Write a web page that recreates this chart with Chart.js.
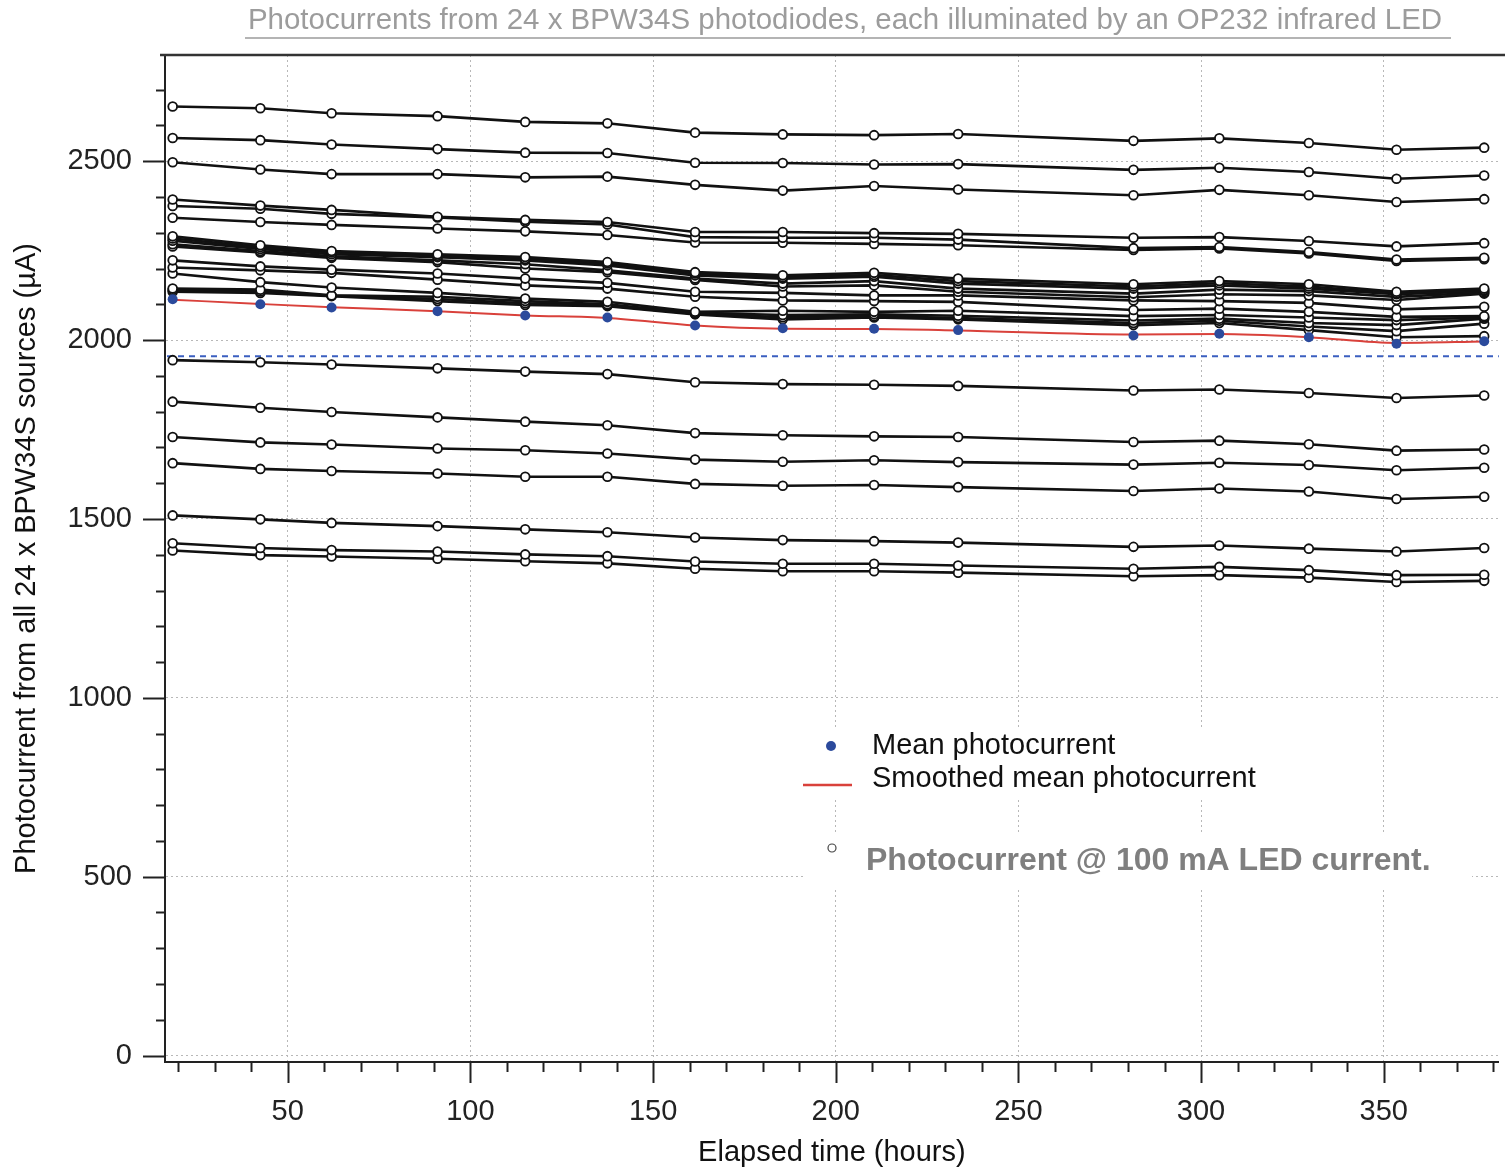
<!DOCTYPE html>
<html><head><meta charset="utf-8">
<script src="https://cdn.jsdelivr.net/npm/chart.js@4/dist/chart.umd.min.js"></script>
<style>html,body{margin:0;padding:0;background:#fff;overflow:hidden;}#wrap{width:1505px;height:1167px;position:relative;}canvas{display:block;}</style>
</head><body><div id="wrap"><canvas id="c"></canvas></div>
<script>
// ---------- data ----------
const hours = [18.5, 42.5, 62, 91, 115, 137.5, 161.5, 185.5, 210.5, 233.5, 281.5, 305, 329.5, 353.5, 377.5];

const diode01 = [2653, 2648, 2634, 2626, 2610, 2606, 2580, 2575, 2573, 2576, 2557, 2564, 2551, 2532, 2538];
const diode02 = [2565, 2559, 2547, 2534, 2524, 2523, 2496, 2495, 2491, 2492, 2476, 2482, 2470, 2451, 2460];
const diode03 = [2497, 2477, 2464, 2464, 2455, 2457, 2434, 2418, 2431, 2421, 2405, 2420, 2405, 2386, 2394];
const diode04 = [2393, 2376, 2364, 2345, 2336, 2330, 2302, 2302, 2299, 2297, 2286, 2288, 2277, 2262, 2271];
const diode05 = [2375, 2367, 2353, 2343, 2331, 2323, 2288, 2286, 2286, 2281, 2257, 2260, 2246, 2225, 2230];
const diode06 = [2342, 2330, 2322, 2312, 2304, 2294, 2273, 2272, 2269, 2265, 2252, 2256, 2242, 2221, 2226];
const diode07 = [2290, 2265, 2249, 2240, 2232, 2218, 2190, 2181, 2188, 2172, 2156, 2165, 2156, 2135, 2144];
const diode08 = [2284, 2260, 2245, 2236, 2227, 2214, 2186, 2176, 2182, 2165, 2150, 2159, 2150, 2131, 2140];
const diode09 = [2278, 2255, 2240, 2232, 2223, 2209, 2181, 2172, 2177, 2158, 2144, 2153, 2144, 2128, 2137];
const diode10 = [2268, 2249, 2234, 2223, 2212, 2195, 2172, 2158, 2165, 2144, 2130, 2141, 2137, 2121, 2133];
const diode11 = [2262, 2245, 2230, 2218, 2200, 2190, 2168, 2150, 2153, 2135, 2120, 2128, 2125, 2112, 2130];
const diode12 = [2223, 2206, 2197, 2186, 2172, 2160, 2135, 2132, 2125, 2125, 2111, 2109, 2104, 2086, 2093];
const diode13 = [2203, 2195, 2188, 2169, 2153, 2144, 2121, 2111, 2109, 2107, 2084, 2088, 2079, 2065, 2067];
const diode14 = [2186, 2162, 2147, 2132, 2116, 2107, 2079, 2082, 2079, 2082, 2067, 2070, 2063, 2056, 2063];
const diode15 = [2144, 2141, 2125, 2121, 2109, 2100, 2076, 2070, 2072, 2068, 2055, 2060, 2048, 2042, 2060];
const diode16 = [2140, 2136, 2124, 2115, 2103, 2097, 2074, 2064, 2067, 2062, 2048, 2054, 2038, 2025, 2046];
const diode17 = [2135, 2132, 2123, 2109, 2098, 2095, 2072, 2058, 2063, 2058, 2042, 2048, 2028, 2008, 2011];
const diode18 = [1944, 1938, 1932, 1921, 1912, 1905, 1882, 1877, 1875, 1872, 1859, 1862, 1852, 1838, 1845];
const diode19 = [1828, 1811, 1799, 1784, 1772, 1762, 1740, 1734, 1731, 1729, 1715, 1719, 1709, 1691, 1694];
const diode20 = [1729, 1714, 1708, 1697, 1692, 1683, 1666, 1660, 1664, 1659, 1652, 1657, 1651, 1636, 1643];
const diode21 = [1656, 1640, 1634, 1627, 1618, 1618, 1598, 1593, 1595, 1589, 1578, 1585, 1577, 1556, 1562];
const diode22 = [1510, 1499, 1489, 1480, 1471, 1463, 1448, 1441, 1438, 1434, 1422, 1426, 1417, 1409, 1419];
const diode23 = [1432, 1419, 1413, 1409, 1401, 1396, 1381, 1375, 1375, 1370, 1361, 1366, 1357, 1343, 1344];
const diode24 = [1412, 1399, 1395, 1389, 1382, 1376, 1361, 1354, 1354, 1350, 1340, 1343, 1336, 1324, 1327];

const meanPhotocurrent = [2114, 2100, 2091, 2081, 2069, 2063, 2041, 2033, 2032, 2028, 2013, 2018, 2008, 1990, 1997];
const smoothedMean     = [2113, 2101, 2092, 2081, 2069, 2062, 2041, 2032, 2031, 2027, 2016, 2017, 2008, 1992, 1996];
const referenceLevel = 1955;

const xMajorTicks = [50, 100, 150, 200, 250, 300, 350];
const yMajorTicks = [0, 500, 1000, 1500, 2000, 2500];

const titleText = 'Photocurrents from 24 x BPW34S photodiodes, each illuminated by an OP232 infrared LED';
const xTitle = 'Elapsed time (hours)';
const yTitle = 'Photocurrent from all 24 x BPW34S sources (\u00b5A)';
const legendMean = 'Mean photocurrent';
const legendSmooth = 'Smoothed mean photocurrent';
const legendDiode = 'Photocurrent @ 100 mA LED current.';

// ---------- build ----------
const diodes = [diode01,diode02,diode03,diode04,diode05,diode06,diode07,diode08,diode09,diode10,diode11,diode12,
  diode13,diode14,diode15,diode16,diode17,diode18,diode19,diode20,diode21,diode22,diode23,diode24];
const toPts = arr => arr.map((v, i) => ({x: hours[i], y: v}));
const FONT = '"Liberation Sans", Arial, Helvetica, sans-serif';

const datasets = diodes.map((d, i) => ({
  label: 'Diode ' + (i + 1), data: toPts(d), order: 3,
  borderColor: '#111', borderWidth: 2.6, pointRadius: 4.4, pointBorderWidth: 1.8,
  pointBackgroundColor: '#fff', pointBorderColor: '#111', tension: 0
}));
datasets.push({label: legendSmooth, data: toPts(smoothedMean), order: 2, borderColor: '#d9413b', borderWidth: 2,
  pointRadius: 0, cubicInterpolationMode: 'monotone'});
datasets.push({label: legendMean, data: toPts(meanPhotocurrent), order: 1, showLine: false,
  pointRadius: 5, pointBackgroundColor: '#2b4a9c', pointBorderColor: '#2b4a9c', pointBorderWidth: 0});

const decor = {
  id: 'decor',
  beforeDatasetsDraw(chart) {
    const {ctx, chartArea: a, scales: {y}} = chart;
    const py = y.getPixelForValue(referenceLevel);
    ctx.save();
    ctx.strokeStyle = '#3b5fc0'; ctx.lineWidth = 2; ctx.setLineDash([6, 5]);
    ctx.beginPath(); ctx.moveTo(a.left + 2, py); ctx.lineTo(a.right, py); ctx.stroke();
    ctx.restore();
  },
  afterDatasetsDraw(chart) {
    const {ctx} = chart;
    ctx.save();
    ctx.fillStyle = '#fff';
    ctx.fillRect(798, 727, 470, 72);
    ctx.fillRect(806, 835, 666, 52);
    ctx.fillStyle = '#2b4a9c';
    ctx.beginPath(); ctx.arc(831, 746, 5, 0, Math.PI * 2); ctx.fill();
    ctx.strokeStyle = '#d9413b'; ctx.lineWidth = 2.5;
    ctx.beginPath(); ctx.moveTo(803, 785); ctx.lineTo(852, 785); ctx.stroke();
    ctx.fillStyle = '#111'; ctx.textBaseline = 'middle'; ctx.textAlign = 'left';
    ctx.font = '29px ' + FONT;
    ctx.fillText(legendMean, 872, 746);
    ctx.fillText(legendSmooth, 872, 779);
    ctx.strokeStyle = '#444'; ctx.lineWidth = 1.2; ctx.fillStyle = '#fff';
    ctx.beginPath(); ctx.arc(832, 848, 4, 0, Math.PI * 2); ctx.fill(); ctx.stroke();
    ctx.fillStyle = '#7f7f7f'; ctx.font = 'bold 32px ' + FONT;
    ctx.fillText(legendDiode, 866, 861);
    ctx.restore();
  },
  afterDraw(chart) {
    const {ctx, chartArea: a, scales: {x, y}} = chart;
    ctx.save();
    ctx.strokeStyle = '#222'; ctx.lineWidth = 2;
    for (let v = 0; v <= 2700; v += 100) {
      const p = Math.round(y.getPixelForValue(v)) + 0.5;
      const len = (v % 500 === 0) ? 22 : 9;
      ctx.beginPath(); ctx.moveTo(a.left - len, p); ctx.lineTo(a.left, p); ctx.stroke();
    }
    for (let v = 20; v <= 380; v += 10) {
      const p = Math.round(x.getPixelForValue(v)) + 0.5;
      const len = (v % 50 === 0) ? 21 : 10;
      ctx.beginPath(); ctx.moveTo(p, a.bottom); ctx.lineTo(p, a.bottom + len); ctx.stroke();
    }
    ctx.strokeStyle = '#333'; ctx.lineWidth = 2.5;
    ctx.beginPath(); ctx.moveTo(160, a.top); ctx.lineTo(1505, a.top); ctx.stroke();
    ctx.fillStyle = '#9c9c9c'; ctx.textAlign = 'center'; ctx.textBaseline = 'middle';
    let fs = 27; ctx.font = fs + 'px ' + FONT;
    const w = ctx.measureText(titleText).width;
    fs = fs * 1194 / w; ctx.font = fs.toFixed(2) + 'px ' + FONT;
    ctx.fillText(titleText, 845, 21);
    ctx.strokeStyle = '#b4b4b4'; ctx.lineWidth = 2;
    ctx.beginPath(); ctx.moveTo(245, 38); ctx.lineTo(1451, 38); ctx.stroke();
    ctx.restore();
  }
};

const gridColor = (step) => (c) => (c.tick && Math.abs(c.tick.value % step) < 1e-6) ? '#b8b8b8' : 'rgba(0,0,0,0)';

new Chart(document.getElementById('c'), {
  type: 'line',
  data: {datasets},
  plugins: [decor],
  options: {
    responsive: true, maintainAspectRatio: false, animation: false,
    layout: {padding: {top: 55, right: 5, left: 0, bottom: 0}},
    plugins: {legend: {display: false}, tooltip: {enabled: false}, title: {display: false}},
    scales: {
      x: {
        type: 'linear', min: 16.4, max: 381.5,
        afterFit(s) { s.height = 105; },
        ticks: {stepSize: 10, includeBounds: false, autoSkip: false, maxRotation: 0, padding: 2,
          color: '#222', font: {size: 29, family: FONT},
          callback: v => xMajorTicks.includes(v) ? String(v) : ''},
        grid: {drawTicks: true, tickLength: 31, tickColor: 'rgba(0,0,0,0)', color: gridColor(50), lineWidth: 1},
        border: {display: true, color: '#222', width: 2, dash: [2, 3]},
        title: {display: true, text: xTitle, color: '#111', font: {size: 29, family: FONT, lineHeight: 1}, padding: {top: 0, bottom: 0}}
      },
      y: {
        type: 'linear', min: -18, max: 2797,
        afterFit(s) { s.width = 165; },
        ticks: {stepSize: 100, includeBounds: false, autoSkip: false, padding: 33,
          color: '#222', font: {size: 29, family: FONT},
          callback: v => yMajorTicks.includes(v) ? String(v) : ''},
        grid: {drawTicks: false, color: gridColor(500), lineWidth: 1},
        border: {display: true, color: '#222', width: 2, dash: [2, 3]},
        title: {display: true, text: yTitle, color: '#111', font: {size: 29, family: FONT}, padding: {top: 10, bottom: 0}}
      }
    }
  }
});
</script></body></html>
